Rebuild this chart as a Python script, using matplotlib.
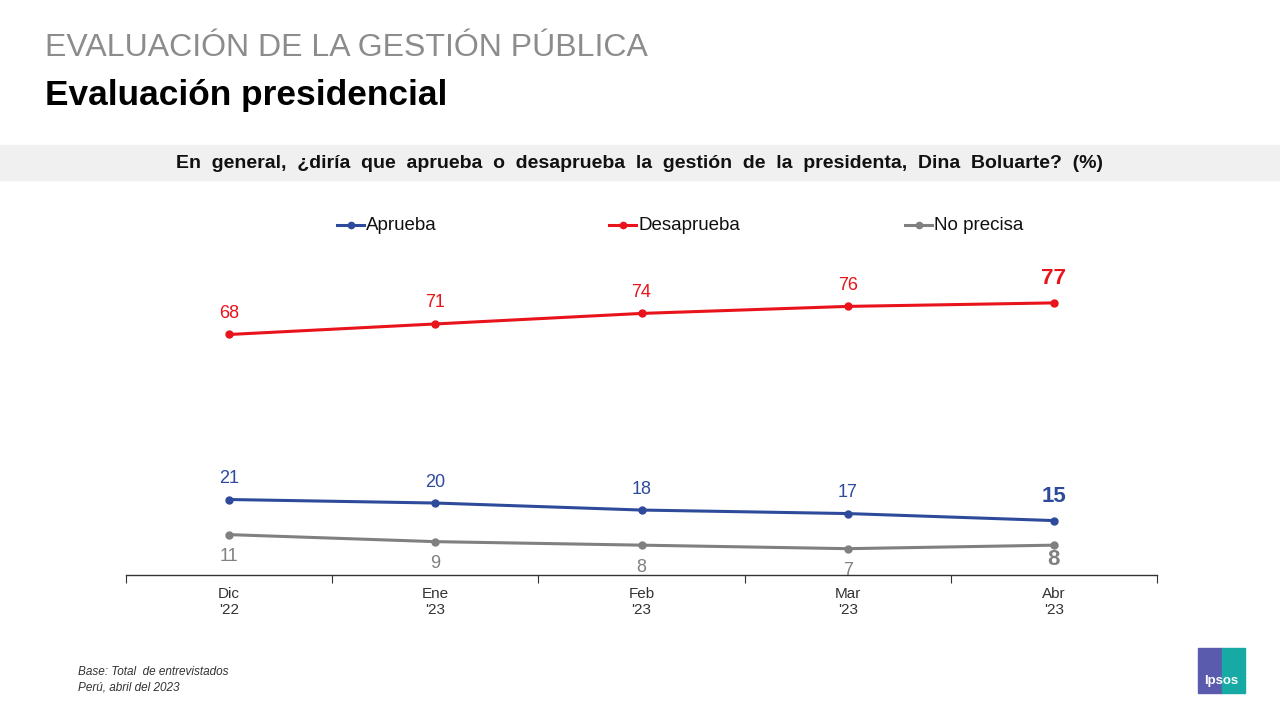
import numpy as np
import matplotlib.pyplot as plt
from matplotlib.lines import Line2D
from matplotlib.patches import Rectangle

plt.rcParams['font.family'] = ['Liberation Sans', 'DejaVu Sans']

meses = ["Dic\n'22", "Ene\n'23", "Feb\n'23", "Mar\n'23", "Abr\n'23"]
aprueba = [21, 20, 18, 17, 15]
desaprueba = [68, 71, 74, 76, 77]
no_precisa = [11, 9, 8, 7, 8]

azul = '#2E4A9B'
rojo = '#E8131B'
gris = '#808080'

fig = plt.figure(figsize=(12.8, 7.2), dpi=100)
W, H = 1280, 720


def fx(px):
    return px / W


def fy(py):
    return 1 - py / H


# encabezado
fig.text(fx(45), fy(48), 'EVALUACIÓN DE LA GESTIÓN PÚBLICA', fontsize=23,
         color='#8c8c8c', va='center', ha='left')
fig.text(fx(45), fy(95), 'Evaluación presidencial', fontsize=25.4,
         fontweight='bold', color='black', va='center', ha='left')
fig.add_artist(Rectangle((0, fy(180)), 1, fy(145) - fy(180),
                         transform=fig.transFigure, color='#f0f0f0', zorder=0))
pregunta = 'En general, ¿diría que aprueba o desaprueba la gestión de la presidenta, Dina Boluarte? (%)'
fig.text(0.5, fy(163), pregunta.replace(' ', '  '),
         fontsize=14, fontweight='bold', ha='center', va='center', color='#111111')

# leyenda manual
for x0, nombre, c in [(337, 'Aprueba', azul), (609, 'Desaprueba', rojo),
                      (905, 'No precisa', gris)]:
    fig.add_artist(Line2D([fx(x0), fx(x0 + 27)], [fy(225), fy(225)],
                          transform=fig.transFigure, color=c, lw=2.2))
    fig.add_artist(Line2D([fx(x0 + 13.5)], [fy(225)], transform=fig.transFigure,
                          color=c, marker='o', markersize=4.5))
    fig.text(fx(x0 + 29), fy(225), nombre, fontsize=13.5, color='#111111',
             ha='left', va='center')

# grafico
ax = fig.add_axes([fx(126), fy(575), fx(1157) - fx(126), fy(259) - fy(575)])
x = np.arange(len(meses))
series = [(desaprueba, rojo, 1), (aprueba, azul, 1), (no_precisa, gris, -1)]
for vals, c, lado in series:
    ax.plot(x, vals, color=c, lw=2.2, marker='o', markersize=5, clip_on=False)
    for i, v in enumerate(vals):
        ultimo = i == len(vals) - 1
        off = 21 if lado > 0 else -22
        if ultimo:
            off = 24 if lado > 0 else -14
        ax.annotate(str(v), (i, v), xytext=(0, off * 0.72), textcoords='offset points',
                    ha='center', va='center', color=c,
                    fontsize=16 if ultimo else 13,
                    fontweight='bold' if ultimo else 'normal')

ax.set_xlim(-0.5, len(meses) - 0.5)
ax.set_ylim(-0.5, 89.5)
ax.set_yticks([])
for s in ['top', 'right', 'left']:
    ax.spines[s].set_visible(False)
ax.spines['bottom'].set_color('#333333')
ax.spines['bottom'].set_linewidth(1)
ax.set_xticks(np.arange(-0.5, len(meses)), minor=False)
ax.set_xticklabels([])
ax.tick_params(axis='x', length=6, color='#333333', direction='out')
ax.set_xticks(x, minor=True)
ax.set_xticklabels(meses, minor=True, fontsize=11, color='#333333', linespacing=1.15)
ax.tick_params(axis='x', which='minor', length=0, pad=9)
ax.patch.set_alpha(0)

# nota
fig.text(fx(78), fy(672), 'Base: Total  de entrevistados', fontsize=8.5,
         style='italic', color='#333333', va='center')
fig.text(fx(78), fy(688), 'Perú, abril del 2023', fontsize=8.5,
         style='italic', color='#333333', va='center')

# logo
fig.add_artist(Rectangle((fx(1198), fy(693)), fx(24), fy(648) - fy(693),
                         transform=fig.transFigure, color='#5B5BAE'))
fig.add_artist(Rectangle((fx(1222), fy(693)), fx(23), fy(648) - fy(693),
                         transform=fig.transFigure, color='#17A9A3'))
fig.text(fx(1221), fy(681), 'Ipsos', fontsize=9.5, fontweight='bold',
         color='white', ha='center', va='center')

fig.savefig('out.png', dpi=100)
